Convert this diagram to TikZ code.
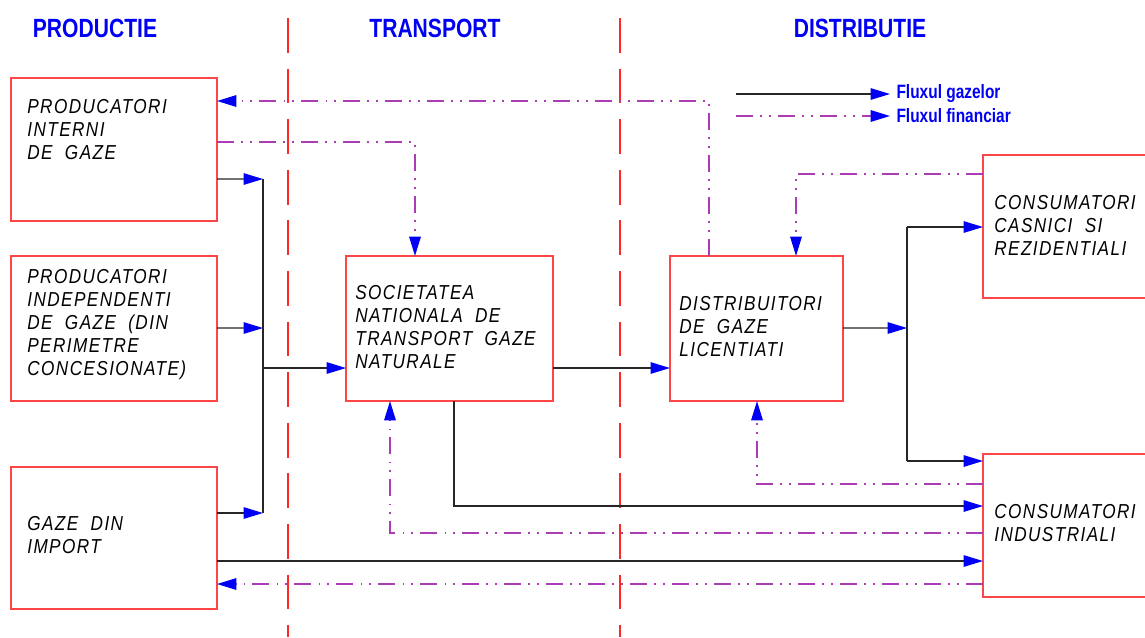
\documentclass[tikz,border=0pt]{standalone}
\usepackage{fontspec}
\setmainfont{Liberation Sans}
\newfontfamily\hdrfont[FakeStretch=0.8]{Liberation Sans}
\newfontfamily\cadfont[FakeStretch=0.85,LetterSpace=7]{Liberation Sans}
\usetikzlibrary{arrows.meta,calc,fit}
\definecolor{boxred}{RGB}{255,70,70}
\definecolor{divred}{RGB}{255,40,40}
\definecolor{finpurple}{RGB}{170,60,180}
\definecolor{tipblue}{RGB}{0,0,245}
\begin{document}
\begin{tikzpicture}[x=0.02cm,y=-0.02cm,
 box/.style={draw=boxred,line width=0.9pt,inner sep=0pt,outer sep=0pt},
 lbl/.style={font=\cadfont\itshape\fontsize{11.5pt}{13.1pt}\selectfont,align=left,inner sep=0pt,anchor=north west},
 hdr/.style={font=\hdrfont\bfseries\fontsize{15pt}{18pt}\selectfont,text=tipblue,inner sep=0pt},
 leg/.style={font=\hdrfont\bfseries\fontsize{11pt}{13pt}\selectfont,text=tipblue,anchor=west,inner xsep=3.5pt,inner ysep=0pt},
 tip/.style={-{Triangle[length=11pt,width=6.5pt,color=tipblue]}},
 gline/.style={draw=black!85,line width=0.8pt},
 gas/.style={gline,tip},
 fline/.style={draw=finpurple,line width=1pt,dash pattern=on 9.5pt off 4.2pt on 0.9pt off 4.2pt on 0.9pt off 4.2pt},
 fin/.style={fline,tip},
 divider/.style={draw=divred,line width=0.7pt,dash pattern=on 19.8pt off 9pt}]

\useasboundingbox (0,0) rectangle (1145,637);

% section dividers
\draw[divider] (288,18) -- (288,637);
\draw[divider] (620,18) -- (620,637);

% headers
\node[hdr] (h1) at (95,28) {PRODUCTIE};
\node[hdr] (h2) at (435,28) {TRANSPORT};
\node[hdr] (h3) at (860,28) {DISTRIBUTIE};

% boxes
\node[box,fit={(11,78)(217,221)}] (A) {};
\node[box,fit={(11,256)(217,401)}] (B) {};
\node[box,fit={(11,467)(217,609)}] (C) {};
\node[box,fit={(346,256)(553,401)}] (D) {};
\node[box,fit={(670,256)(843,401)}] (E) {};
\node[box,fit={(983,155)(1160,298)}] (F) {};
\node[box,fit={(983,454)(1160,597)}] (G) {};

% box texts
\node[lbl] (At) at (27,99) {PRODUCATORI\\INTERNI\\DE~~GAZE};
\node[lbl] (Bt) at (27,269) {PRODUCATORI\\INDEPENDENTI\\DE~~GAZE~~(DIN\\PERIMETRE\\CONCESIONATE)};
\node[lbl] (Ct) at (27,516) {GAZE~~DIN\\IMPORT};
\node[lbl] (Dt) at (355,285) {SOCIETATEA\\NATIONALA~~DE\\TRANSPORT~~GAZE\\NATURALE};
\node[lbl] (Et) at (679,296) {DISTRIBUITORI\\DE~~GAZE\\LICENTIATI};
\node[lbl] (Ft) at (994,195) {CONSUMATORI\\CASNICI~~SI\\REZIDENTIALI};
\node[lbl] (Gt) at (994,504) {CONSUMATORI\\INDUSTRIALI};

% legend
\coordinate (lg1) at (736,94);
\coordinate (lg2) at (736,116);
\node[leg] (L1) at (890,94) {Fluxul gazelor};
\node[leg] (L2) at (890,116) {Fluxul financiar};
\draw[gas] (lg1) -- (L1.west);
\draw[fin] (lg2) -- (L2.west);

% gas flow
\coordinate (bA) at (263,179);
\coordinate (bB) at (263,328);
\coordinate (bC) at (263,513);
\coordinate (bD) at (263,368);
\coordinate (sp) at (907,328);
\coordinate (sF) at (907,227);
\coordinate (sG) at (907,461);

\draw[gas] ($(A.north east)+(0,101)$) -- (bA);
\draw[gas] ($(B.north east)+(0,72)$) -- (bB);
\draw[gas] ($(C.north east)+(0,46)$) -- (bC);
\draw[gline] (bA) -- (bC);
\draw[gas] (bD) -- (D.west |- bD);
\path ($(D.north east)+(0,112)$) coordinate (dE);
\draw[gas] (dE) -- (E.west |- dE);
\draw[gas] ($(E.north east)+(0,72)$) -- (sp);
\draw[gline] (sF) -- (sG);
\draw[gas] (sF) -- (F.west |- sF);
\draw[gas] (sG) -- (G.west |- sG);
\draw[gas] ($(D.south west)+(108,0)$) |- ($(G.north west)+(0,52)$);
\path ($(C.north east)+(0,94)$) coordinate (cG);
\draw[gas] (cG) -- (G.west |- cG);

% financial flow
\draw[fin] ($(E.north west)+(39,0)$) |- ($(A.north east)+(0,23)$);
\draw[fin] ($(A.north east)+(0,64)$) -| ($(D.north west)+(69,0)$);
\draw[fin] ($(F.north west)+(0,19)$) -| ($(E.north west)+(126,0)$);
\draw[fin] ($(G.north west)+(0,30)$) -| ($(E.south west)+(87,0)$);
\draw[fin] ($(G.north west)+(0,79)$) -| ($(D.south west)+(44,0)$);
\path ($(G.north west)+(0,130)$) coordinate (gC);
\draw[fin] (gC) -- (C.east |- gC);
\end{tikzpicture}
\end{document}
